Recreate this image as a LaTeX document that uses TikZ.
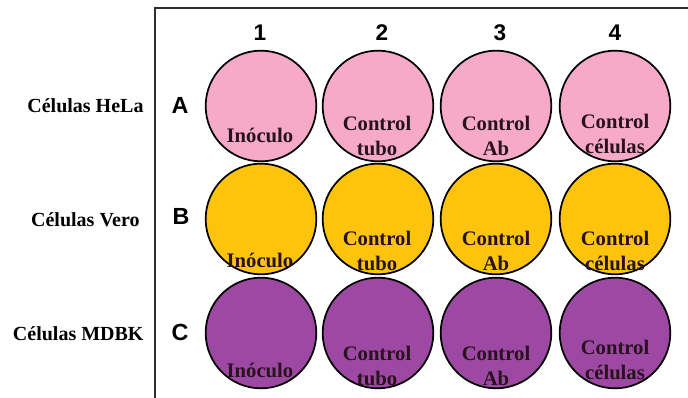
\documentclass[tikz,border=0pt]{standalone}
\usepackage{fontspec}
\setmainfont{Liberation Serif}
\newfontfamily\arialfont{Liberation Sans}
\definecolor{wellpink}{RGB}{246,170,200}
\definecolor{wellyellow}{RGB}{254,196,12}
\definecolor{wellpurple}{RGB}{157,72,162}
\definecolor{welltextcol}{RGB}{40,18,30}
\definecolor{framegray}{RGB}{45,45,45}

\tikzset{every picture/.style={line width=0.75pt}}

\begin{document}
\begin{tikzpicture}[x=0.75pt,y=0.75pt,yscale=-1,xscale=1,
	well/.style={circle, draw=black, line width=1.3pt, minimum size=83pt, inner sep=0pt},
	welltext/.style={inner sep=0.75pt, align=center, text=welltextcol, font=\fontsize{15.5}{18.75}\selectfont\bfseries},
	rowlabel/.style={anchor=east, inner sep=0.75pt, font=\fontsize{15}{18}\selectfont\bfseries},
	rowletter/.style={inner sep=0.75pt, font=\arialfont\bfseries\fontsize{17.5}{20}\selectfont},
	colnum/.style={inner sep=0.75pt, font=\arialfont\bfseries\fontsize{17}{20}\selectfont}]
	\useasboundingbox (0,0) rectangle (688,398);
	
	%Frame
	\draw [color=framegray, line width=1.9pt]  (155,398) -- (155,8) -- (688,8) ;
	
	%Wells row A
	\node [well, fill=wellpink] (wA1) at (261,106) {};
	\node [well, fill=wellpink] (wA2) at (378,106) {};
	\node [well, fill=wellpink] (wA3) at (496,106) {};
	\node [well, fill=wellpink] (wA4) at (615,106) {};
	%Wells row B
	\node [well, fill=wellyellow] (wB1) at (261,219) {};
	\node [well, fill=wellyellow] (wB2) at (378,219) {};
	\node [well, fill=wellyellow] (wB3) at (496,219) {};
	\node [well, fill=wellyellow] (wB4) at (615,219) {};
	%Wells row C
	\node [well, fill=wellpurple] (wC1) at (261,333) {};
	\node [well, fill=wellpurple] (wC2) at (378,333) {};
	\node [well, fill=wellpurple] (wC3) at (496,333) {};
	\node [well, fill=wellpurple] (wC4) at (615,333) {};
	
	% Text Node
	\node [welltext] (tA1) at (260,135) {In\'oculo};
	\node [welltext] (tA2) at (377,135.5) {Control\\tubo};
	\node [welltext] (tA3) at (496,135.5) {Control\\Ab};
	\node [welltext] (tA4) at (615,134) {Control\\c\'elulas};
	% Text Node
	\node [welltext] (tB1) at (260,260) {In\'oculo};
	\node [welltext] (tB2) at (377,250.5) {Control\\tubo};
	\node [welltext] (tB3) at (496,250.5) {Control\\Ab};
	\node [welltext] (tB4) at (615,250.5) {Control\\c\'elulas};
	% Text Node
	\node [welltext] (tC1) at (260,370) {In\'oculo};
	\node [welltext] (tC2) at (377,365.5) {Control\\tubo};
	\node [welltext] (tC3) at (496,365.5) {Control\\Ab};
	\node [welltext] (tC4) at (615,359.5) {Control\\c\'elulas};
	
	% Column numbers
	\node [colnum] (n1) at (260,33) {1};
	\node [colnum] (n2) at (382,33) {2};
	\node [colnum] (n3) at (500,33) {3};
	\node [colnum] (n4) at (615,33) {4};
	
	% Row letters
	\node [rowletter] (lA) at (180,105) {A};
	\node [rowletter] (lB) at (181,216) {B};
	\node [rowletter] (lC) at (180,332) {C};
	
	% Row labels
	\node [rowlabel] (rA) at (145,106) {C\'elulas HeLa};
	\node [rowlabel] (rB) at (141,220) {C\'elulas Vero};
	\node [rowlabel] (rC) at (145,334) {C\'elulas MDBK};
	
\end{tikzpicture}
\end{document}
